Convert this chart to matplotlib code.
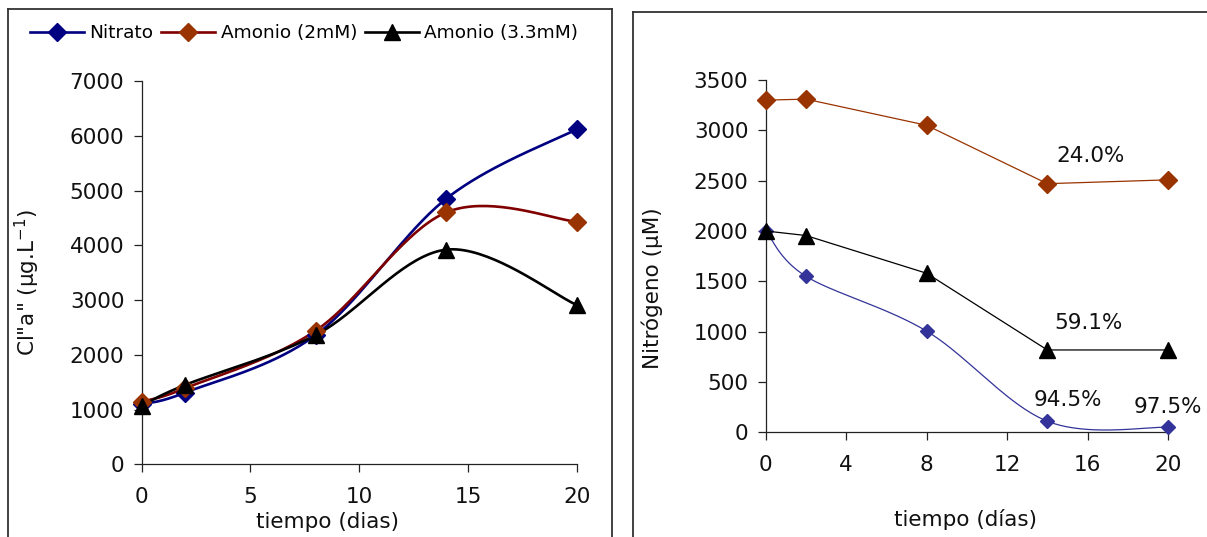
import numpy as np
import matplotlib
matplotlib.use("Agg")
import matplotlib.pyplot as plt
from matplotlib.lines import Line2D

plt.rcParams['font.family'] = ['DejaVu Sans']

# ---- data ----
dias = [0, 2, 8, 14, 20]

# chlorophyll "a" (ug/L)
cl_nitrato = [1100, 1310, 2360, 4850, 6120]
cl_amonio2 = [1140, 1390, 2440, 4600, 4430]
cl_amonio33 = [1070, 1450, 2360, 3920, 2910]

# nitrogen remaining (uM)
n_nitrato = [2000, 1550, 1005, 110, 50]
n_amonio2 = [3300, 3310, 3050, 2470, 2508]
n_amonio33 = [2000, 1955, 1580, 818, 818]

labels = ["Nitrato", "Amonio (2mM)", "Amonio (3.3mM)"]
left_xticks = [0, 5, 10, 15, 20]
left_yticks = [0, 1000, 2000, 3000, 4000, 5000, 6000, 7000]
right_xticks = [0, 4, 8, 12, 16, 20]
right_yticks = [0, 500, 1000, 1500, 2000, 2500, 3000, 3500]


def smooth(x, y, n=40):
    """Catmull-Rom style smoothed curve through the points (spreadsheet 'smoothed line')."""
    p = np.column_stack([x, y]).astype(float)
    ext = np.vstack([p[0], p, p[-1]])
    out = []
    t = np.linspace(0, 1, n)[:, None]
    for i in range(len(p) - 1):
        p0, p1, p2, p3 = ext[i], ext[i + 1], ext[i + 2], ext[i + 3]
        c1 = p1 + (p2 - p0) / 6.0
        c2 = p2 - (p3 - p1) / 6.0
        seg = ((1 - t) ** 3) * p1 + 3 * ((1 - t) ** 2) * t * c1 + 3 * (1 - t) * t ** 2 * c2 + t ** 3 * p2
        out.append(seg if i == 0 else seg[1:])
    s = np.vstack(out)
    return s[:, 0], s[:, 1]


W, H = 1207, 537
fig = plt.figure(figsize=(W / 100, H / 100), dpi=100)

TICK_FS = 15.5


def style_axes(ax):
    for side in ("top", "right"):
        ax.spines[side].set_visible(False)
    for side in ("left", "bottom"):
        ax.spines[side].set_color("#222222")
        ax.spines[side].set_linewidth(0.9)
    ax.tick_params(direction="out", length=5.5, width=0.9, color="#222222",
                   labelsize=TICK_FS, labelcolor="#111111")
    ax.tick_params(axis="y", pad=7)
    ax.tick_params(axis="x", pad=11)


# ---- left panel: chlorophyll ----
axl = fig.add_axes([141.7 / W, 1 - 464.3 / H, (576.7 - 141.7) / W, (464.3 - 81) / H])
style_axes(axl)
axl.set_xlim(0, 20)
axl.set_ylim(0, 7000)
axl.set_xticks(left_xticks)
axl.set_yticks(left_yticks)

series_left = [
    (cl_nitrato, "#000080", "#000080", "D", 9.5),
    (cl_amonio2, "#800000", "#993300", "D", 9.5),
    (cl_amonio33, "#000000", "#000000", "^", 12),
]
handles = []
for vals, lc, mc, mk, ms in series_left:
    sx, sy = smooth(dias, vals)
    axl.plot(sx, sy, color=lc, lw=1.9, clip_on=False, zorder=3)
    axl.plot(dias, vals, ls="none", marker=mk, ms=ms, color=mc, mec=mc,
             clip_on=False, zorder=4)
    handles.append(Line2D([], [], color=lc, lw=1.9, marker=mk, ms=ms * 0.95,
                          markerfacecolor=mc, markeredgecolor=mc))

fig.text(327 / W, 1 - 522 / H, "tiempo (dias)", ha="center", va="center",
         fontsize=TICK_FS, color="#111111")
fig.text(27 / W, 1 - 283 / H, r'Cl"a" (μg.L$^{-1}$)', ha="center", va="center",
         rotation=90, fontsize=TICK_FS, color="#111111")

fig.legend(handles, labels, loc="center left", bbox_to_anchor=(30 / W, 1 - 33 / H),
           ncol=3, frameon=False, fontsize=13.3, handlelength=2.9,
           handletextpad=0.3, columnspacing=0.45, borderpad=0, borderaxespad=0)

# ---- right panel: nitrogen ----
axr = fig.add_axes([765.7 / W, 1 - 432.3 / H, (1168 - 765.7) / W, (432.3 - 80) / H])
style_axes(axr)
axr.set_xlim(0, 20)
axr.set_ylim(0, 3500)
axr.set_xticks(right_xticks)
axr.set_yticks(right_yticks)

sx, sy = smooth(dias, n_nitrato)
axr.plot(sx, sy, color="#333399", lw=0.9, clip_on=False, zorder=3)
axr.plot(dias, n_nitrato, ls="none", marker="D", ms=7.5, color="#333399", clip_on=False, zorder=4)
axr.plot(dias, n_amonio2, color="#993300", lw=0.9, marker="D", ms=9.5, clip_on=False, zorder=4)
axr.plot(dias, n_amonio33, color="#000000", lw=0.9, marker="^", ms=12, clip_on=False, zorder=4)


def removal(series, i):
    return "{:.1f}%".format(100.0 * (1 - series[i] / series[0]))


# (series, day index for the percentage, day index the label sits by, offset in points)
ann = [
    (n_amonio2, 4, 3, (31, 20)),
    (n_amonio33, 4, 3, (30, 19.5)),
    (n_nitrato, 3, 3, (15, 15)),
    (n_nitrato, 4, 4, (0, 14.5)),
]
for series, iv, ip, off in ann:
    axr.annotate(removal(series, iv), (dias[ip], series[ip]), xytext=off,
                 textcoords="offset points", ha="center", va="center",
                 fontsize=TICK_FS, color="#111111", annotation_clip=False)

fig.text(965 / W, 1 - 520 / H, "tiempo (días)", ha="center", va="center",
         fontsize=TICK_FS, color="#111111")
fig.text(652 / W, 1 - 288 / H, "Nitrógeno (μM)", ha="center", va="center",
         rotation=90, fontsize=TICK_FS, color="#111111")

# ---- panel frames ----
fc = "#333333"
flw = 1.3
for xs, ys in [
    ([8, 8], [9, H + 5]), ([8, 612], [9, 9]), ([612, 612], [9, H + 5]),
    ([633, 633], [12, H + 5]), ([633, W + 5], [12, 12]),
]:
    fig.add_artist(Line2D([x / W for x in xs], [1 - y / H for y in ys],
                          color=fc, lw=flw, transform=fig.transFigure))

fig.savefig("out.png", dpi=100)
